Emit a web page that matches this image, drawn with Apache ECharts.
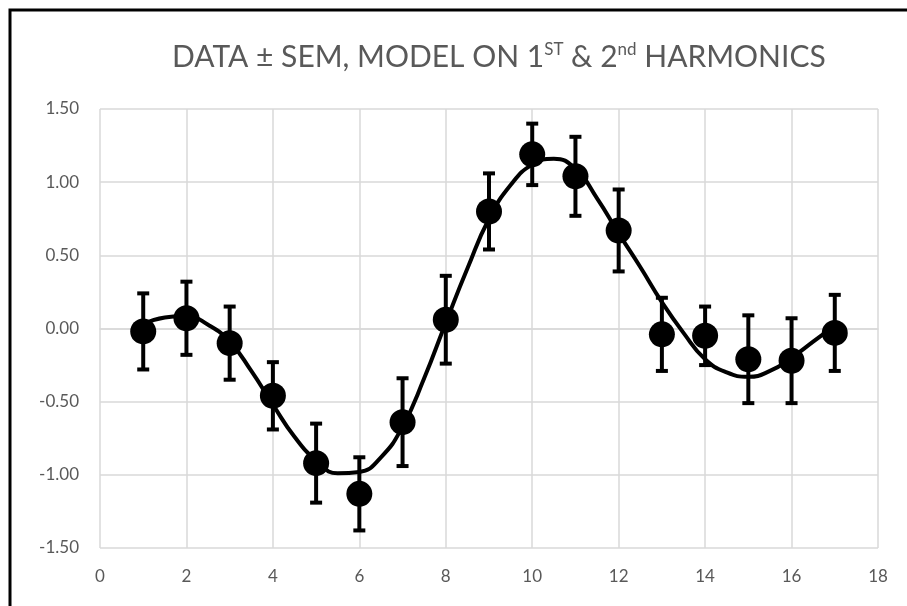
<!DOCTYPE html>
<html>
<head>
<meta charset="utf-8">
<script src="https://cdn.jsdelivr.net/npm/echarts@6/dist/echarts.min.js"></script>
<style>html,body{margin:0;padding:0;background:#fff;}#c{width:907px;height:606px;}</style>
</head>
<body>
<div id="c"></div>
<script>
// Observed data: time points, means, SEM
var xs = [1,2,3,4,5,6,7,8,9,10,11,12,13,14,15,16,17];
var means = [-0.02,0.07,-0.10,-0.46,-0.92,-1.13,-0.64,0.06,0.80,1.19,1.04,0.67,-0.04,-0.05,-0.21,-0.22,-0.03];
var sems = [0.26,0.25,0.25,0.23,0.27,0.25,0.30,0.30,0.26,0.21,0.27,0.28,0.25,0.20,0.30,0.29,0.26];
// Model curve
var modelX = [1,1.5,2,2.5,3,3.5,4,4.5,5,5.5,6,6.5,7,7.5,8,8.5,9,9.5,10,10.5,11,11.5,12,12.5,13,13.5,14,14.5,15,15.5,16,16.5,17];
var modelY = [0.03,0.075,0.085,0.025,-0.09,-0.29,-0.52,-0.74,-0.90,-0.99,-0.98,-0.88,-0.67,-0.34,0.04,0.41,0.75,0.98,1.12,1.16,1.09,0.89,0.65,0.42,0.18,-0.03,-0.21,-0.30,-0.33,-0.29,-0.20,-0.09,0.02];
var xTicks = {min:0, max:18, step:2};
var yTicks = {min:-1.5, max:1.5, step:0.5};

var chart = echarts.init(document.getElementById('c'));
var font = 'Lato, "Liberation Sans", sans-serif';
var pts = xs.map(function(x,i){return [x, means[i]];});
var errs = xs.map(function(x,i){return [x, means[i]-sems[i], means[i]+sems[i]];});
var model = modelX.map(function(x,i){return [x, modelY[i]];});

chart.setOption({
  animation:false,
  backgroundColor:'#fff',
  title:{
    text:'DATA ± SEM, MODEL ON 1{sup|ST} & 2{sup|nd} HARMONICS',
    left:167, top:36,
    textStyle:{
      color:'#595959', fontSize:30, fontWeight:'normal', fontFamily:font,
      rich:{ sup:{fontSize:17, color:'#595959', fontFamily:font, verticalAlign:'top', padding:[0,0,16,0]} }
    }
  },
  graphic:[{type:'rect', shape:{x:10, y:10, width:1200, height:1200}, style:{fill:'none', stroke:'#000', lineWidth:3}, silent:true}],
  grid:{left:100, right:29, top:109, bottom:58},
  xAxis:{
    type:'value', min:xTicks.min, max:xTicks.max, interval:xTicks.step,
    axisLine:{show:true, lineStyle:{color:'#d9d9d9', width:1.5}},
    axisTick:{show:false},
    splitLine:{show:true, lineStyle:{color:'#d9d9d9', width:1.5}},
    axisLabel:{color:'#595959', fontSize:17, fontFamily:font, margin:20}
  },
  yAxis:{
    type:'value', min:yTicks.min, max:yTicks.max, interval:yTicks.step,
    axisLine:{show:false}, axisTick:{show:false},
    splitLine:{show:true, lineStyle:{color:'#d9d9d9', width:1.5}},
    axisLabel:{color:'#595959', fontSize:17, fontFamily:font, margin:21, formatter:function(v){return v.toFixed(2);}}
  },
  series:[
    {type:'line', data:model, smooth:0.5, showSymbol:false, lineStyle:{color:'#000', width:4}, z:2},
    {type:'custom', z:3, data:errs,
     renderItem:function(params, api){
       var x = api.value(0);
       var lo = api.coord([x, api.value(1)]);
       var hi = api.coord([x, api.value(2)]);
       var cw = 6;
       var st = {stroke:'#000', lineWidth:4};
       return {type:'group', children:[
         {type:'line', shape:{x1:lo[0], y1:lo[1], x2:hi[0], y2:hi[1]}, style:st},
         {type:'line', shape:{x1:lo[0]-cw, y1:lo[1], x2:lo[0]+cw, y2:lo[1]}, style:st},
         {type:'line', shape:{x1:hi[0]-cw, y1:hi[1], x2:hi[0]+cw, y2:hi[1]}, style:st}
       ]};
     }},
    {type:'scatter', data:pts, symbol:'circle', symbolSize:26, itemStyle:{color:'#000', opacity:1}, z:4}
  ]
});
</script>
</body>
</html>
